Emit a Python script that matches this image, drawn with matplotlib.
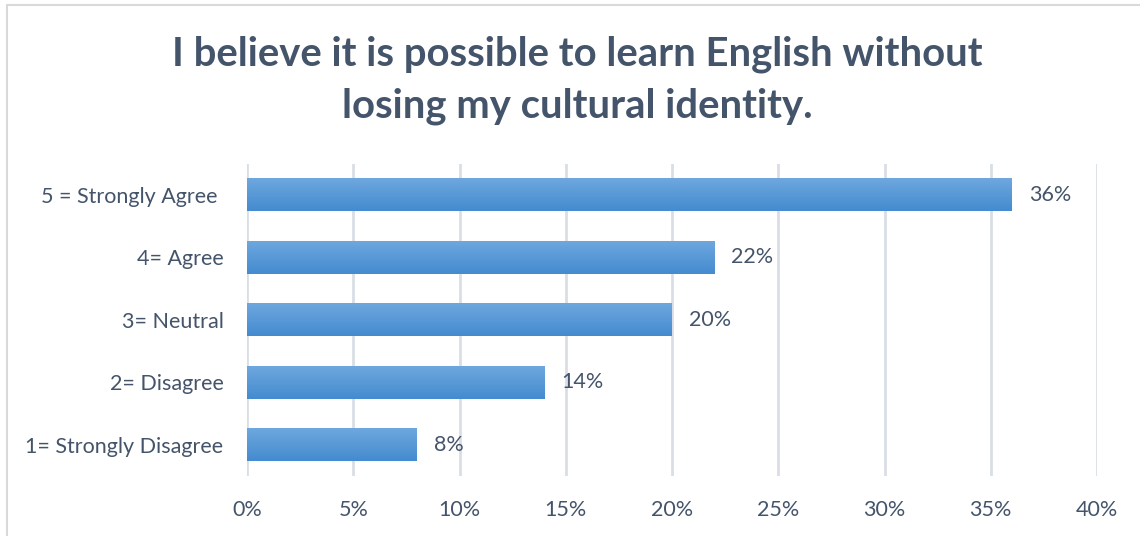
import numpy as np
import matplotlib
matplotlib.use("Agg")
import matplotlib.pyplot as plt
from matplotlib.patches import Rectangle
from matplotlib.colors import LinearSegmentedColormap

categories = ["1= Strongly Disagree", "2= Disagree", "3= Neutral", "4= Agree", "5 = Strongly Agree "]
values = [8, 14, 20, 22, 36]
xticks = [0, 5, 10, 15, 20, 25, 30, 35, 40]
title = "I believe it is possible to learn English without\nlosing my cultural identity."

text_color = "#44546A"
grid_color = "#D9DEE6"
plt.rcParams["font.family"] = ["Lato", "DejaVu Sans"]

fig = plt.figure(figsize=(11.4, 5.36), dpi=100)
ax = fig.add_axes([247 / 1140, 1 - 476 / 536, 850 / 1140, 312.5 / 536])

# chart frame (light grey border)
fig.patches.append(Rectangle((7 / 1140, -0.1), 1.2, 1 - 5 / 536 + 0.1,
                             transform=fig.transFigure, fill=False,
                             edgecolor="#D9D9D9", linewidth=1.5))

y = np.arange(len(categories))
bars = ax.barh(y, values, height=0.53, color="none", zorder=3)

# vertical gradient fill for each bar
cmap = LinearSegmentedColormap.from_list("bar", ["#448BCF", "#6FA8DF"])
grad = np.linspace(0, 1, 64).reshape(-1, 1)
for b in bars:
    x0, y0 = b.get_x(), b.get_y()
    w, h = b.get_width(), b.get_height()
    im = ax.imshow(grad, cmap=cmap, aspect="auto", origin="lower",
                   extent=[x0, x0 + w, y0, y0 + h], zorder=3)
    im.set_clip_path(b)

for yi, v in zip(y, values):
    ax.text(v + 0.8, yi, f"{v}%", va="center", ha="left",
            fontsize=15.5, color=text_color)

ax.set_xlim(0, 40)
ax.set_ylim(-0.5, len(categories) - 0.5)
ax.set_xticks(xticks)
ax.set_xticklabels([f"{t}%" for t in xticks])
ax.set_yticks(y)
ax.set_yticklabels(categories)
ax.tick_params(axis="both", length=0, labelsize=15.5, colors=text_color)
ax.tick_params(axis="x", pad=17)
ax.tick_params(axis="y", pad=17)
ax.grid(axis="x", color=grid_color, linewidth=2, zorder=0)
ax.set_axisbelow(True)
for s in ax.spines.values():
    s.set_visible(False)

fig.text(577 / 1140, 1 - 80.5 / 536, title, ha="center", va="center",
         fontsize=28.8, fontweight="bold", color=text_color, linespacing=1.47)

fig.savefig("out.png", dpi=100)
